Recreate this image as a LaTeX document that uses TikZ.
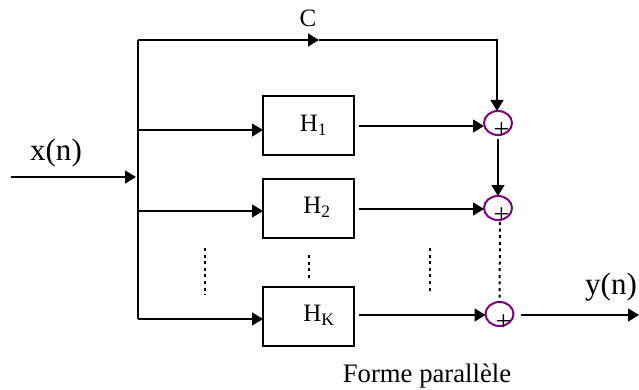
\documentclass[tikz,border=0pt]{standalone}
\usepackage{fontspec}
\setmainfont{Liberation Serif}
\usetikzlibrary{positioning, arrows.meta, calc, shapes.geometric}
\definecolor{sumpurple}{RGB}{128,0,128}

\begin{document}
\begin{tikzpicture}[
    x=1pt, y=-1pt,
    node distance=24pt and 2cm, % vertical and horizontal spacing
    every node/.style={font=\fontsize{25}{28}\selectfont},
    line width=1.5pt,
    flow/.style={-{Triangle[length=11pt,width=13pt]}},
    filterbox/.style={draw, minimum width=91pt, minimum height=59pt, inner sep=0pt, outer sep=0pt},
    sumnode/.style={draw=sumpurple, ellipse, minimum width=28pt, minimum height=24pt, inner sep=0pt, outer sep=0pt, line width=2pt},
    signal/.style={font=\fontsize{31}{34}\selectfont},
    caption/.style={font=\fontsize{26.7}{30}\selectfont},
    plus/.style={font=\fontsize{28}{28}\selectfont, inner sep=0pt},
    vdots/.style={line width=2pt, dash pattern=on 3pt off 3.6pt}
]
    \useasboundingbox (0,0) rectangle (639,390);

    % Place the nodes
    \node (h1) [filterbox] at (308.5,125.5) {};
    \node (h2) [filterbox, below=of h1] {};
    \node (hk) [filterbox, below=49pt of h2] {};
    \node at (313.5,125) {H\textsubscript{1}};
    \node at (317,207) {H\textsubscript{2}};
    \node at (319,315) {H\textsubscript{K}};

    \node (s1) [sumnode] at (498,123) {};
    \node (s2) [sumnode] at (498,208) {};
    \node (sk) [sumnode] at (499.5,314) {};
    \node [plus] at (501.5,131) {+};
    \node [plus] at (501.5,216) {+};
    \node [plus] at (503.5,323) {+};

    \node [signal] at (56,153) {x(n)};
    \node [signal] at (611,287) {y(n)};
    \node at (308,18) {C};
    \node [caption] at (427,376) {Forme parallèle};

    \coordinate (in) at (11,177);
    \coordinate (bus) at (136,177);
    \coordinate (top) at (138,40);
    \coordinate (bot) at (138,319);
    \coordinate (mid) at (319,40);
    \coordinate (corner) at (497,40);
    \coordinate (tap1) at (138,130);
    \coordinate (tap2) at (138,211);
    \coordinate (out1) at (359,126);
    \coordinate (out2) at (359,209);
    \coordinate (outk) at (359,315);
    \coordinate (end) at (639,315);

    % Draw the edges
    \draw [flow] (in) -- (bus);
    \draw (bot) -- (top);
    \draw [flow] (top) -- (mid);
    \draw [flow] (mid) -- (corner) -- (corner |- s1.north);
    \draw [flow] (tap1) -- (tap1 -| h1.west);
    \draw [flow] (tap2) -- (tap2 -| h2.west);
    \draw [flow] (bot) -- (bot -| hk.west);
    \draw [flow] (out1) -- (out1 -| s1.west);
    \draw [flow] (out2) -- (out2 -| s2.west);
    \draw [flow] (outk) -- (outk -| sk.west);
    \draw [flow] ($(s1.south)+(0,4)$) -- (s2.north);
    \draw [flow] ($(sk.east)+(7,1)$) -- (end);

    % draw the dotted gaps
    \draw [vdots] ($(s2.south)+(2,2)$) -- ($(sk.north)+(0,0)$);
    \draw [vdots] (205,248) -- (205,295);
    \draw [vdots] (309,255) -- (309,280);
    \draw [vdots] (430,248) -- (430,294);
\end{tikzpicture}
\end{document}
